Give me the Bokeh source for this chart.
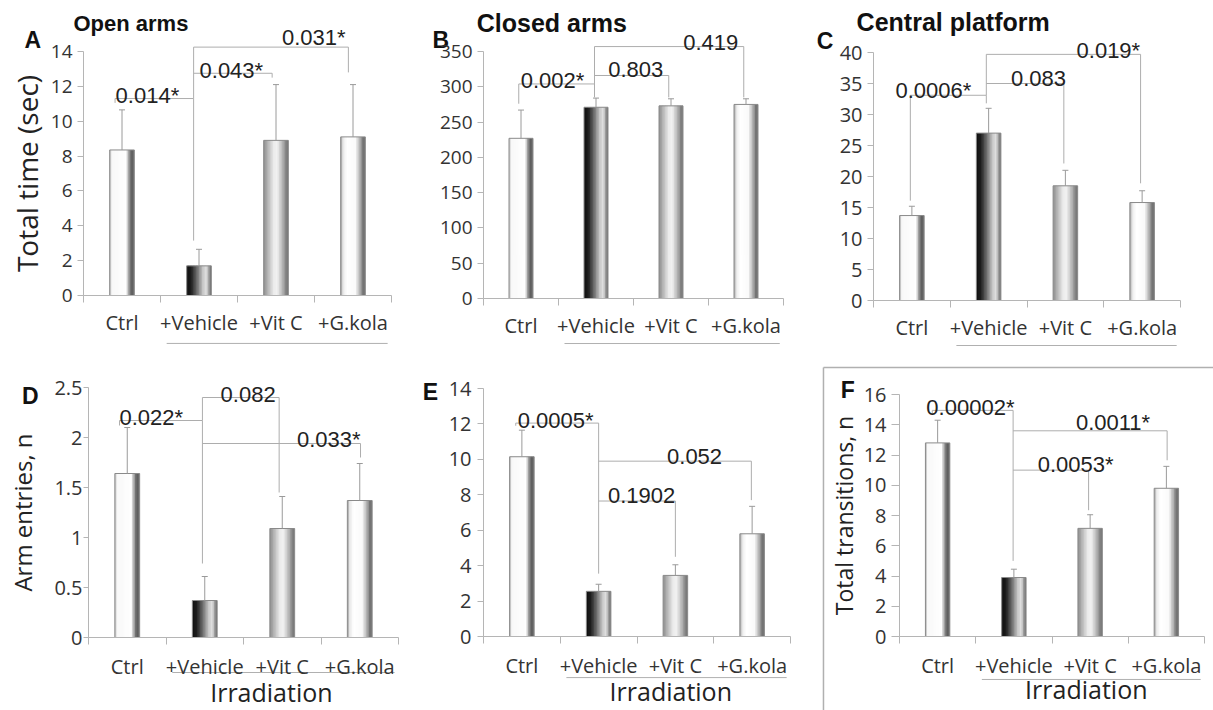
import numpy as np
from bokeh.plotting import figure
from bokeh.layouts import row, column
from bokeh.models import (FixedTicker, Range1d, CustomJSTickFormatter,
                          NumeralTickFormatter)
from bokeh.core.properties import value
from bokeh.embed import file_html
from bokeh.resources import INLINE

# ---------------- data ----------------
categories = ["Ctrl", "+Vehicle", "+Vit C", "+G.kola"]

open_arms_time = [8.35, 1.70, 8.90, 9.10]
open_arms_err = [2.30, 0.95, 3.20, 3.00]
closed_arms_time = [227, 271, 273, 275]
closed_arms_err = [40, 13, 10, 8]
central_time = [13.7, 27.0, 18.5, 15.8]
central_err = [1.5, 4.0, 2.5, 1.9]
arm_entries = [1.64, 0.37, 1.09, 1.37]
arm_entries_err = [0.46, 0.24, 0.32, 0.37]
panel_e_values = [10.15, 2.55, 3.45, 5.80]
panel_e_err = [1.50, 0.40, 0.60, 1.55]
total_transitions = [12.8, 3.9, 7.15, 9.8]
total_transitions_err = [1.50, 0.55, 0.90, 1.45]

open_ticks = [0, 2, 4, 6, 8, 10, 12, 14]
closed_ticks = [0, 50, 100, 150, 200, 250, 300, 350]
central_ticks = [0, 5, 10, 15, 20, 25, 30, 35, 40]
entries_ticks = [0, 0.5, 1, 1.5, 2, 2.5]
e_ticks = [0, 2, 4, 6, 8, 10, 12, 14]
transitions_ticks = [0, 2, 4, 6, 8, 10, 12, 14, 16]

open_p = ["0.014*", "0.043*", "0.031*"]
closed_p = ["0.002*", "0.803", "0.419"]
central_p = ["0.0006*", "0.083", "0.019*"]
entries_p = ["0.022*", "0.082", "0.033*"]
e_p = ["0.0005*", "0.1902", "0.052"]
transitions_p = ["0.00002*", "0.0011*", "0.0053*"]

# ---------------- styles / layout ----------------
GRAD = [  # grey level stops, left -> right across each bar
    [(0, 175), (0.08, 248), (0.66, 255), (0.78, 160), (0.88, 90), (1, 115)],
    [(0, 15), (0.18, 30), (0.42, 110), (0.66, 200), (0.8, 225), (0.9, 160), (1, 100)],
    [(0, 140), (0.12, 170), (0.4, 235), (0.55, 242), (0.8, 170), (0.92, 125), (1, 120)],
    [(0, 155), (0.1, 235), (0.25, 255), (0.6, 250), (0.8, 170), (0.92, 110), (1, 120)],
]
BAR_W = 0.32
NSTRIP = 16
AX_COL = "#b5b5b5"
BR_COL = "#adadad"
ERR_COL = "#9a9a9a"


def hexg(g):
    g = int(round(g))
    return "#%02x%02x%02x" % (g, g, g)


def make_panel(values, errs, ticks, pvals, spec):
    X0, Y0, W, H = spec["canvas"]
    ax, ay, cw, k = spec["axis"]
    xr = Range1d((X0 - ax) / cw, (X0 + W - ax) / cw)
    yr = Range1d((ay - (Y0 + H)) / k, (ay - Y0) / k)
    p = figure(width=W, height=H, x_range=xr, y_range=yr,
               output_backend="svg", toolbar_location=None, min_border=0,
               background_fill_color="white", border_fill_color="white")
    p.outline_line_color = None
    p.xgrid.visible = False
    p.ygrid.visible = False

    # bars as shaded strips (overlapping to avoid seams)
    sw = BAR_W / NSTRIP
    lefts, rights, tops, cols = [], [], [], []
    for i, v in enumerate(values):
        ts, gs = zip(*GRAD[i])
        left0 = i + 0.5 - BAR_W / 2
        for s in range(NSTRIP):
            t = (s + 0.5) / NSTRIP
            lefts.append(left0 + s * sw)
            rights.append(left0 + min((s + 1.6) * sw, BAR_W))
            tops.append(v)
            cols.append(hexg(np.interp(t, ts, gs)))
    p.quad(left=lefts, right=rights, top=tops, bottom=0,
           fill_color=cols, line_color=None)
    centers = [i + 0.5 for i in range(len(categories))]
    p.vbar(x=centers, top=values, bottom=0, width=BAR_W, fill_color=None,
           line_color="#8a8a8a", line_width=1)

    # error bars
    upper = [v + e for v, e in zip(values, errs)]
    p.segment(x0=centers, y0=values, x1=centers, y1=upper,
              line_color=ERR_COL, line_width=1)
    p.scatter(x=centers, y=upper, marker="dash", size=6,
              line_color=ERR_COL, line_width=1)

    # significance brackets
    sx0, sy0, sx1, sy1 = [], [], [], []
    for (x0, x1, h, l0, l1, lx, ly) in spec["brackets"]:
        sx0 += [x0]; sy0 += [h]; sx1 += [x1]; sy1 += [h]
        if l0 is not None:
            sx0 += [x0]; sy0 += [h]; sx1 += [x0]; sy1 += [l0]
        if l1 is not None:
            sx0 += [x1]; sy0 += [h]; sx1 += [x1]; sy1 += [l1]
    p.segment(x0=sx0, y0=sy0, x1=sx1, y1=sy1, line_color=BR_COL, line_width=1)
    p.text(x=[b[5] for b in spec["brackets"]], y=[b[6] for b in spec["brackets"]],
           text=pvals, text_font=value("Liberation Sans"),
           text_font_size=spec.get("p_size", "22px"), text_color="#222222",
           text_align="center", text_baseline="alphabetic")

    # panel letter and title
    lx, ly = spec["letter_xy"]
    p.text(x=[lx], y=[ly], text=[spec["letter"]], text_font=value("Liberation Sans"),
           text_font_style="bold", text_font_size="23px", text_color="#111111",
           text_align="center", text_baseline="middle")
    if spec.get("title"):
        tx, ty = spec["title_xy"]
        p.text(x=[tx], y=[ty], text=[spec["title"]], text_font=value("Liberation Sans"),
               text_font_style="bold", text_font_size=spec["title_size"],
               text_color="#111111", text_align="left", text_baseline="middle")

    # grouping underline and "Irradiation"
    uy = spec["underline_y"]
    p.segment(x0=[1.08], y0=[uy], x1=[3.95], y1=[uy], line_color="#b0b0b0",
              line_width=1)
    if spec.get("irr"):
        ix, iy = spec["irr"]
        p.text(x=[ix], y=[iy], text=["Irradiation"], text_font=value("Open Sans"),
               text_font_size="25px", text_color="#222222", text_align="center",
               text_baseline="middle")

    if spec.get("box"):
        bx, by = spec["box"]
        p.segment(x0=[bx, bx], y0=[by, by], x1=[xr.end, bx], y1=[by, yr.start],
                  line_color="#b0b0b0", line_width=1.5)

    # x axis
    xa = p.xaxis[0]
    xa.fixed_location = 0
    xa.bounds = (0, len(categories))
    xa.ticker = FixedTicker(ticks=centers, minor_ticks=list(range(len(categories) + 1)))
    xa.formatter = CustomJSTickFormatter(args=dict(names=categories), code="""
        const i = Math.floor(tick);
        return (i >= 0 && i < names.length) ? names[i] : "";
    """)
    xa.major_tick_out = 0
    xa.major_tick_in = 0
    xa.minor_tick_out = 7
    xa.minor_tick_in = 0
    xa.axis_line_color = AX_COL
    xa.minor_tick_line_color = AX_COL
    xa.major_label_text_font = "Open Sans"
    xa.major_label_text_font_size = "20px"
    xa.major_label_text_color = "#333333"
    xa.major_label_standoff = spec.get("x_standoff", 6)

    # y axis
    ya = p.yaxis[0]
    ya.fixed_location = 0
    ya.bounds = (0, ticks[-1])
    ya.ticker = FixedTicker(ticks=ticks)
    if spec.get("numeral"):
        ya.formatter = NumeralTickFormatter(format="0.[0]")
    ya.major_tick_out = spec.get("tick_out", 6)
    ya.major_tick_in = 0
    ya.minor_tick_out = 0
    ya.minor_tick_in = 0
    ya.axis_line_color = AX_COL
    ya.major_tick_line_color = AX_COL
    ya.major_label_text_font = "Open Sans"
    ya.major_label_text_font_size = spec.get("tick_size", "19px")
    ya.major_label_text_color = "#333333"
    ya.major_label_standoff = spec.get("y_standoff", 5)
    if spec.get("ylabel"):
        ya.axis_label = spec["ylabel"]
        ya.axis_label_text_font = "Open Sans"
        ya.axis_label_text_font_style = "normal"
        ya.axis_label_text_font_size = spec["ylabel_size"]
        ya.axis_label_text_color = "#222222"
        ya.axis_label_standoff = spec["ylabel_standoff"]
    return p


spec_a = dict(canvas=(0, 0, 400, 358), axis=(83, 295, 77, 17.43),
              letter="A", letter_xy=(-0.66, 14.63),
              title="Open arms", title_xy=(-0.13, 15.63), title_size="22px",
              ylabel="Total time (sec)", ylabel_size="28px", ylabel_standoff=2,
              tick_size="19px", underline_y=-2.75, x_standoff=6,
              brackets=[(0.41, 1.43, 11.3, 11.05, 3.15, 0.83, 11.47),
                        (1.43, 2.45, 12.75, None, 12.5, 1.92, 12.91),
                        (1.43, 3.44, 14.25, 11.3, 12.8, 2.99, 14.82)])
spec_b = dict(canvas=(400, 0, 400, 358), axis=(483, 298, 75, 0.7057),
              letter="B", letter_xy=(-0.57, 365.6),
              title="Closed arms", title_xy=(-0.09, 390.4), title_size="25px",
              tick_size="19px", underline_y=-63.8, x_standoff=6,
              brackets=[(0.47, 1.48, 304, 276, 285, 0.92, 309),
                        (1.48, 2.47, 316, None, 285, 2.03, 324),
                        (1.48, 3.47, 357, 304, 285, 3.03, 363)])
spec_c = dict(canvas=(800, 0, 413, 358), axis=(873, 300, 76.75, 6.2),
              letter="C", letter_xy=(-0.63, 41.9),
              title="Central platform", title_xy=(-0.22, 44.9), title_size="25px",
              tick_size="20px", underline_y=-7.26, x_standoff=6,
              brackets=[(0.48, 1.47, 33.1, 16.1, 31.8, 0.78, 33.9),
                        (1.47, 2.48, 35.0, None, 22.1, 2.15, 35.8),
                        (1.47, 3.48, 39.7, 33.1, 18.9, 3.06, 40.3)])
spec_d = dict(canvas=(0, 358, 400, 352), axis=(88, 637, 77.5, 100),
              letter="D", letter_xy=(-0.75, 2.42),
              ylabel="Arm entries, n", ylabel_size="24px", ylabel_standoff=12,
              tick_size="20px", numeral=True, tick_out=5, y_standoff=1,
              underline_y=-0.35, irr=(2.36, -0.54), x_standoff=8,
              brackets=[(0.40, 1.47, 2.17, 2.12, 0.74, 0.81, 2.20),
                        (1.47, 2.46, 2.40, 2.17, 1.45, 2.06, 2.43),
                        (1.47, 3.51, 1.94, None, 1.80, 3.10, 1.98)])
spec_e = dict(canvas=(400, 358, 400, 352), axis=(483, 636, 76.75, 17.71),
              letter="E", letter_xy=(-0.69, 13.78),
              tick_size="20px", y_standoff=6, x_standoff=8,
              underline_y=-2.32, irr=(2.44, -3.05),
              brackets=[(0.42, 1.50, 12.05, 11.9, 3.55, 0.94, 12.2),
                        (1.50, 2.50, 7.65, None, 4.5, 2.06, 7.96),
                        (1.50, 3.49, 9.9, None, 7.7, 2.75, 10.16)])
spec_f = dict(canvas=(800, 358, 413, 352), axis=(899, 636, 76.25, 15.125),
              letter="F", letter_xy=(-0.68, 16.33),
              ylabel="Total transitions, n", ylabel_size="23px", ylabel_standoff=1,
              tick_size="20px", tick_out=8, y_standoff=5, x_standoff=8,
              underline_y=-2.84, irr=(2.45, -3.5), box=(-0.997, 17.79),
              brackets=[(0.43, 1.49, 14.95, 14.7, 5.0, 0.93, 15.14),
                        (1.49, 3.51, 13.6, None, 11.65, 2.80, 14.17),
                        (1.49, 2.48, 11.0, None, 8.35, 2.31, 11.37)])

pa = make_panel(open_arms_time, open_arms_err, open_ticks, open_p, spec_a)
pb = make_panel(closed_arms_time, closed_arms_err, closed_ticks, closed_p, spec_b)
pc = make_panel(central_time, central_err, central_ticks, central_p, spec_c)
pd = make_panel(arm_entries, arm_entries_err, entries_ticks, entries_p, spec_d)
pe = make_panel(panel_e_values, panel_e_err, e_ticks, e_p, spec_e)
pf = make_panel(total_transitions, total_transitions_err, transitions_ticks,
                transitions_p, spec_f)

layout = column(row(pa, pb, pc, spacing=0), row(pd, pe, pf, spacing=0), spacing=0)

open("out.html", "w").write(file_html(layout, INLINE))
